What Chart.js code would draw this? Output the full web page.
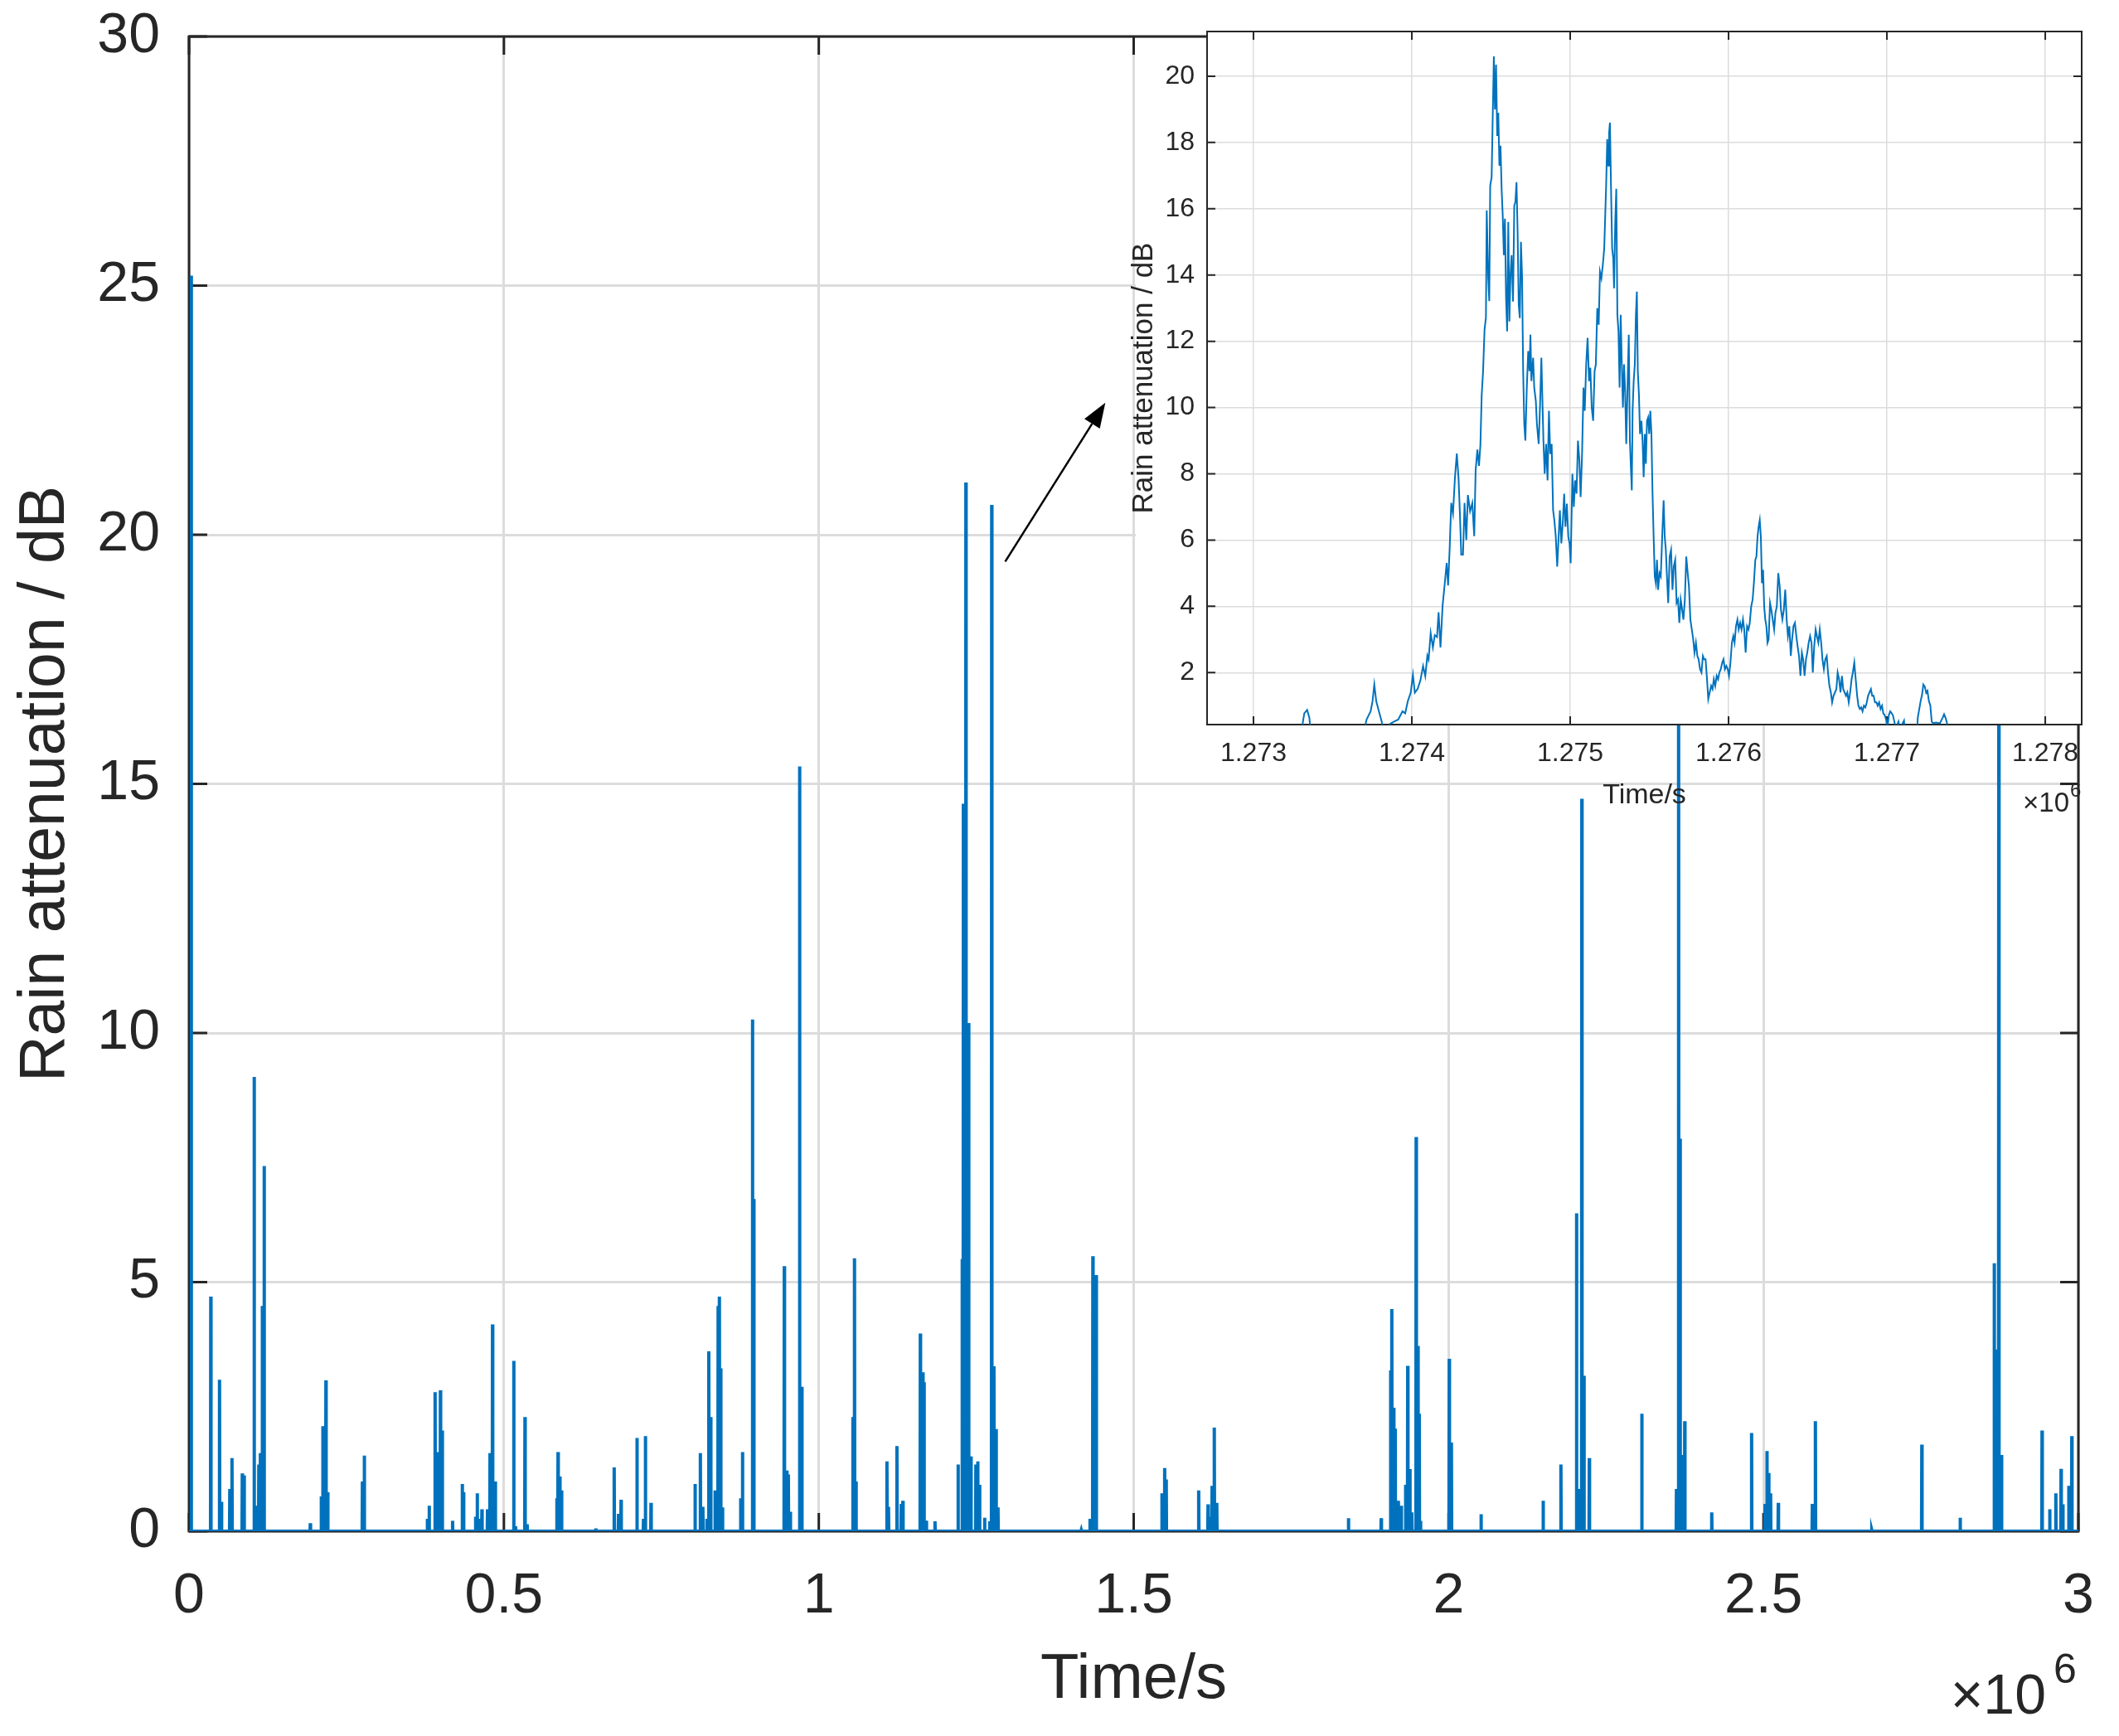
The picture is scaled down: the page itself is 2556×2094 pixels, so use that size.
<!DOCTYPE html>
<html>
<head>
<meta charset="utf-8">
<script src="https://cdn.jsdelivr.net/npm/chart.js@4.4.1/dist/chart.umd.min.js"></script>
<style>
  html, body { margin: 0; padding: 0; background: #ffffff; }
  #wrap { position: relative; width: 2556px; height: 2094px; }
  #mainCanvas { position: absolute; left: 0; top: 0; }
  #insetCanvas { position: absolute; left: 1340px; top: 0; }
</style>
</head>
<body>
<div id="wrap">
  <canvas id="mainCanvas" width="2556" height="2094"></canvas>
  <canvas id="insetCanvas" width="1216" height="1000"></canvas>
</div>
<script>
// --- Data ---

// Main plot: rain events (time in s, peak attenuation in dB); baseline is 0 dB between them
const spikeTimes = [
  3500, 34550, 48420, 51400, 64770, 68240, 84580, 87560, 103410, 108370,
  110840, 113320, 116290, 119270, 192580, 209920, 212400, 217350, 220330, 275320,
  278300, 378360, 381330, 390740, 394710, 399170, 402140, 418490, 433840, 435820,
  455140, 457620, 460100, 465050, 473970, 477930, 481900, 486360, 515590, 518560,
  533420, 536890, 583950, 585930, 588900, 591380, 645870, 675100, 682030, 685990,
  711260, 721660, 724630, 733550, 803510, 811930, 815900, 822340, 825310, 828280,
  835220, 837200, 840170, 842150, 844130, 847110, 875840, 878810, 894660, 896650,
  945200, 949160, 951640, 954610, 969470, 972940, 1054180, 1056660, 1059130, 1079940,
  1108180, 1110660, 1124040, 1130970, 1133450, 1161190, 1165150, 1167130, 1170600, 1184470,
  1221130, 1227570, 1229550, 1231530, 1233520, 1235990, 1237980, 1241450, 1249380, 1252350,
  1255320, 1263250, 1271180, 1274520, 1278100, 1281570, 1284540, 1416810, 1430680, 1435140,
  1440590, 1544730, 1549190, 1551670, 1603190, 1618050, 1621520, 1624490, 1627960, 1631920,
  1840980, 1893000, 1907860, 1909840, 1912810, 1915290, 1920240, 1924700, 1931640, 1935100,
  1938570, 1941540, 1948480, 1951450, 1953430, 1955410, 2001000, 2004470, 2051530, 2150110,
  2178350, 2203120, 2207580, 2211540, 2215010, 2223430, 2306770, 2361810, 2365220, 2367650,
  2370570, 2374960, 2417810, 2481120, 2502550, 2505470, 2508390, 2511310, 2523490, 2577550,
  2582420, 2672020, 2751410, 2812280, 2866340, 2869260, 2873640, 2878030, 2942310, 2954480,
  2964220, 2972500, 2975420, 2984670, 2989540
];
const spikeValues = [
  25.2, 4.71, 3.04, 0.59, 0.85, 1.47, 1.16, 1.12, 9.12, 0.51,
  1.34, 1.57, 4.52, 7.33, 0.16, 0.70, 2.11, 3.03, 0.78, 1.00,
  1.52, 0.25, 0.51, 2.79, 1.59, 2.83, 2.02, 0.21, 0.95, 0.78,
  0.29, 0.76, 0.25, 0.44, 0.44, 1.57, 4.15, 1.00, 3.42, 0.10,
  2.29, 0.14, 0.66, 1.59, 1.10, 0.82, 0.06, 1.28, 0.35, 0.63,
  1.87, 0.25, 1.91, 0.57, 0.95, 1.57, 0.49, 0.25, 3.61, 2.29,
  0.82, 0.82, 4.52, 4.71, 3.27, 0.48, 0.66, 1.59, 10.27, 6.67,
  5.32, 1.22, 1.14, 0.39, 15.35, 2.90, 2.29, 5.48, 1.00, 0.02,
  1.40, 0.49, 1.71, 0.55, 0.61, 3.97, 3.19, 2.99, 0.21, 0.20,
  1.34, 5.46, 14.6, 1.2, 21.05, 6.0, 10.2, 1.5, 1.34, 1.40,
  0.93, 0.27, 0.20, 20.6, 3.31, 2.05, 0.48, 0.02, 0.25, 5.52,
  5.14, 0.76, 1.27, 1.04, 0.82, 0.54, 0.29, 0.91, 2.08, 0.57,
  0.26, 0.26, 3.23, 4.46, 2.48, 2.06, 0.61, 0.51, 0.93, 3.32,
  1.25, 0.38, 7.91, 3.72, 2.36, 0.21, 3.46, 1.78, 0.34, 0.61,
  1.34, 6.38, 0.85, 14.7, 3.12, 1.47, 2.36, 0.85, 17.0, 7.88,
  1.53, 2.21, 0.38, 1.97, 0.55, 1.61, 1.17, 0.76, 0.57, 0.55,
  2.21, 0.02, 1.74, 0.27, 5.38, 3.65, 19.0, 1.53, 2.02, 0.44,
  0.76, 1.25, 0.54, 0.91, 1.91
];

// Inset: zoom on the event around 1.2745e6 s
const insetTimes = [
  1272707, 1273295, 1273321, 1273339, 1273353, 1273365, 1273688, 1273714, 1273740, 1273752,
  1273763, 1273775, 1273792, 1273810, 1273827, 1273862, 1273888, 1273914, 1273941, 1273958,
  1273975, 1273993, 1274007, 1274019, 1274037, 1274054, 1274071, 1274085, 1274098, 1274106,
  1274119, 1274133, 1274145, 1274159, 1274169, 1274181, 1274194, 1274208, 1274220, 1274229,
  1274239, 1274249, 1274260, 1274272, 1274284, 1274295, 1274304, 1274312, 1274323, 1274333,
  1274344, 1274354, 1274368, 1274382, 1274394, 1274403, 1274414, 1274424, 1274433, 1274441,
  1274450, 1274459, 1274468, 1274473, 1274482, 1274489, 1274495, 1274504, 1274511, 1274518,
  1274525, 1274532, 1274539, 1274546, 1274553, 1274560, 1274567, 1274574, 1274581, 1274588,
  1274595, 1274602, 1274609, 1274616, 1274623, 1274630, 1274639, 1274647, 1274654, 1274661,
  1274668, 1274675, 1274682, 1274689, 1274696, 1274703, 1274710, 1274717, 1274726, 1274735,
  1274743, 1274749, 1274755, 1274766, 1274773, 1274783, 1274790, 1274801, 1274810, 1274818,
  1274831, 1274839, 1274848, 1274857, 1274866, 1274874, 1274883, 1274892, 1274900, 1274909,
  1274918, 1274927, 1274935, 1274944, 1274953, 1274962, 1274970, 1274979, 1274988, 1274996,
  1275003, 1275014, 1275023, 1275031, 1275040, 1275049, 1275058, 1275066, 1275075, 1275084,
  1275092, 1275101, 1275110, 1275119, 1275127, 1275136, 1275145, 1275154, 1275162, 1275171,
  1275180, 1275188, 1275197, 1275206, 1275215, 1275220, 1275227, 1275234, 1275241, 1275246,
  1275251, 1275258, 1275265, 1275272, 1275277, 1275284, 1275291, 1275298, 1275305, 1275312,
  1275319, 1275326, 1275333, 1275340, 1275347, 1275354, 1275363, 1275370, 1275377, 1275384,
  1275389, 1275394, 1275401, 1275408, 1275415, 1275421, 1275427, 1275434, 1275441, 1275450,
  1275457, 1275464, 1275471, 1275478, 1275485, 1275492, 1275499, 1275506, 1275513, 1275520,
  1275527, 1275534, 1275541, 1275548, 1275555, 1275564, 1275572, 1275581, 1275590, 1275597,
  1275604, 1275611, 1275619, 1275628, 1275637, 1275646, 1275654, 1275663, 1275672, 1275681,
  1275689, 1275698, 1275707, 1275715, 1275724, 1275733, 1275742, 1275750, 1275759, 1275768,
  1275777, 1275785, 1275794, 1275803, 1275811, 1275820, 1275829, 1275838, 1275846, 1275855,
  1275864, 1275872, 1275881, 1275890, 1275899, 1275907, 1275916, 1275925, 1275934, 1275942,
  1275951, 1275960, 1275968, 1275977, 1275986, 1275995, 1276003, 1276012, 1276021, 1276030,
  1276038, 1276047, 1276056, 1276064, 1276073, 1276082, 1276091, 1276099, 1276108, 1276117,
  1276126, 1276134, 1276143, 1276152, 1276160, 1276169, 1276176, 1276183, 1276190, 1276197,
  1276204, 1276211, 1276218, 1276225, 1276232, 1276239, 1276246, 1276253, 1276262, 1276270,
  1276279, 1276288, 1276296, 1276305, 1276314, 1276323, 1276331, 1276340, 1276349, 1276358,
  1276367, 1276375, 1276384, 1276393, 1276401, 1276410, 1276419, 1276428, 1276436, 1276445,
  1276454, 1276463, 1276471, 1276480, 1276489, 1276497, 1276506, 1276515, 1276524, 1276532,
  1276541, 1276550, 1276558, 1276567, 1276576, 1276585, 1276593, 1276602, 1276611, 1276620,
  1276628, 1276637, 1276646, 1276654, 1276663, 1276672, 1276681, 1276689, 1276698, 1276707,
  1276716, 1276724, 1276733, 1276742, 1276750, 1276759, 1276768, 1276777, 1276785, 1276794,
  1276803, 1276812, 1276820, 1276829, 1276838, 1276846, 1276855, 1276864, 1276873, 1276881,
  1276890, 1276899, 1276907, 1276916, 1276925, 1276934, 1276942, 1276951, 1276960, 1276969,
  1276977, 1276986, 1276995, 1277003, 1277012, 1277021, 1277030, 1277038, 1277047, 1277056,
  1277073, 1277082, 1277108, 1277117, 1277187, 1277195, 1277204, 1277213, 1277222, 1277230,
  1277239, 1277248, 1277256, 1277265, 1277274, 1277283, 1277291, 1277309, 1277335, 1277352,
  1277361, 1277370, 1277379, 1277387, 1278230
];
const insetValues = [
  0, 0, 0.77, 0.87, 0.64, 0, 0, 0.58, 0.83, 1.14,
  1.64, 1.14, 0.83, 0.52, 0, 0.45, 0.52, 0.58, 0.83, 0.77,
  1.14, 1.39, 1.93, 1.39, 1.51, 1.76, 2.20, 1.89, 2.51, 2.39,
  3.19, 2.76, 3.13, 3.07, 3.82, 2.76, 4.00, 4.69, 5.31, 4.63,
  5.75, 7.12, 6.80, 7.86, 8.61, 7.86, 6.74, 5.56, 5.56, 7.12,
  6.00, 7.36, 6.87, 7.12, 6.12, 8.11, 8.73, 8.24, 8.86, 10.35,
  11.10, 12.34, 12.72, 15.95, 13.96, 13.21, 16.70, 16.95, 18.81, 20.6,
  19.0, 20.35, 18.2, 18.9, 17.3, 17.9, 16.6, 15.8, 14.6, 15.7,
  13.3, 12.3, 15.6, 12.6, 14.0, 14.6, 13.2, 16.1, 16.2, 16.8,
  15.3, 13.1, 12.7, 15.0, 14.0, 11.1, 9.5, 9.0, 10.6, 11.7,
  11.1, 12.2, 10.8, 11.5, 10.6, 10.2, 9.5, 8.9, 10.1, 11.5,
  9.0, 8.0, 8.9, 7.8, 9.9, 8.6, 8.9, 6.9, 6.6, 6.1,
  5.2, 6.1, 6.9, 5.9, 6.5, 7.4, 6.4, 7.1, 6.1, 5.9,
  5.3, 8.0, 7.0, 7.8, 7.4, 9.0, 8.4, 7.3, 8.6, 10.6,
  9.9, 11.3, 12.1, 10.8, 11.2, 10.0, 9.6, 11.1, 11.3, 13.0,
  12.5, 14.1, 13.9, 14.3, 14.8, 15.6, 16.7, 18.1, 17.3, 18.3,
  18.6, 16.6, 14.8, 14.5, 13.6, 15.5, 16.6, 12.8, 12.3, 10.6,
  12.8, 11.3, 10.0, 11.3, 10.5, 8.9, 10.8, 12.2, 9.0, 8.1,
  7.5, 9.9, 10.8, 11.3, 12.8, 13.5, 11.1, 10.4, 9.2, 9.6,
  9.0, 7.9, 9.2, 8.3, 9.6, 9.7, 9.2, 9.9, 9.2, 7.4,
  6.1, 4.9, 4.7, 5.4, 4.5, 5.0, 4.9, 6.1, 7.2, 6.1,
  5.7, 4.9, 4.1, 5.5, 5.7, 4.5, 5.2, 5.4, 4.1, 4.2,
  3.5, 4.2, 3.9, 3.6, 4.2, 5.5, 5.0, 4.6, 3.6, 3.3,
  3.0, 2.6, 2.9, 2.5, 2.4, 2.1, 2.0, 2.5, 2.4, 2.4,
  1.8, 1.2, 1.4, 1.6, 1.5, 1.8, 1.6, 1.9, 1.8, 2.0,
  2.1, 2.3, 2.4, 2.1, 2.2, 2.1, 1.9, 2.3, 2.9, 3.1,
  2.9, 3.4, 3.6, 3.3, 3.5, 3.3, 3.6, 3.3, 2.6, 3.4,
  3.3, 3.5, 4.0, 4.2, 4.7, 5.4, 5.5, 6.1, 6.4, 6.6,
  6.1, 4.7, 5.1, 4.0, 3.6, 3.4, 2.9, 3.0, 4.1, 3.9,
  3.6, 3.3, 3.8, 4.0, 5.0, 4.6, 3.9, 3.6, 3.9, 4.5,
  3.6, 3.1, 3.4, 2.5, 3.0, 3.4, 3.5, 3.1, 2.8, 2.5,
  1.9, 2.6, 2.4, 1.9, 2.4, 2.6, 2.9, 3.1, 2.9, 2.0,
  2.8, 3.3, 3.1, 2.9, 3.3, 2.9, 2.4, 2.1, 2.4, 2.5,
  2.0, 1.6, 1.4, 1.1, 1.3, 1.4, 1.5, 2.0, 1.8, 1.4,
  1.9, 1.5, 1.4, 1.3, 1.4, 1.1, 1.4, 1.8, 2.0, 2.3,
  1.8, 1.3, 1.0, 0.9, 0.95, 0.83, 1.0, 0.95, 1.1, 1.3,
  1.4, 1.5, 1.3, 1.3, 1.1, 1.1, 1.0, 1.1, 0.9, 1.0,
  0.77, 0.71, 0.58, 0.3, 0.71, 0.83, 0.77, 0.71, 0.52, 0.3,
  0.52, 0.3, 0.55, 0, 0, 0.64, 0.89, 1.14, 1.33, 1.64,
  1.58, 1.39, 1.45, 1.14, 1.01, 0.52, 0.47, 0.49, 0.47, 0.64,
  0.74, 0.64, 0.49, 0, 0
];

// Axis ranges and tick positions
const mainXRange = [0, 3e6];
const mainYRange = [0, 30];
const mainXTicks = [0, 5e5, 1e6, 1.5e6, 2e6, 2.5e6, 3e6];
const mainYTicks = [0, 5, 10, 15, 20, 25, 30];
const insetXRange = [1272707, 1278230];
const insetYRange = [0.43, 21.35];
const insetXTicks = [1273000, 1274000, 1275000, 1276000, 1277000, 1278000];
const insetYTicks = [2, 4, 6, 8, 10, 12, 14, 16, 18, 20];

// Arrow pointing from the main-plot event to the inset (data coordinates of main plot)
const arrowFrom = [1.296e6, 19.46];
const arrowTo = [1.455e6, 22.65];

// --- Styling ---
const AXIS_COLOR = '#262626';
const GRID_COLOR = '#dcdcdc';
const LINE_COLOR = '#0072bd';
const FONT = "'Liberation Sans', Arial, Helvetica, sans-serif";
const SPIKE_HALF_WIDTH = 400; // seconds, just to give each event a rise and fall

Chart.defaults.font.family = FONT;
Chart.defaults.color = AXIS_COLOR;

function buildSpikeSeries(times, values) {
  const pts = [{ x: mainXRange[0], y: 0 }];
  for (let i = 0; i < times.length; i++) {
    pts.push({ x: times[i] - SPIKE_HALF_WIDTH, y: 0 });
    pts.push({ x: times[i], y: values[i] });
    pts.push({ x: times[i] + SPIKE_HALF_WIDTH, y: 0 });
  }
  pts.push({ x: mainXRange[1], y: 0 });
  return pts;
}

function zipSeries(xs, ys) {
  return xs.map((x, i) => ({ x: x, y: ys[i] }));
}

// fixed tick positions, and no extra label overflow padding around the plot area
function fixedTicks(values) {
  return s => { s.ticks = values.map(v => ({ value: v })); };
}
function fitBox(size, horizontal) {
  return s => {
    if (horizontal) s.height = size; else s.width = size;
    s.paddingLeft = 0; s.paddingRight = 0; s.paddingTop = 0; s.paddingBottom = 0;
  };
}

// Box around the axes with MATLAB-like inward ticks on all four sides
const boxTicks = {
  id: 'boxTicks',
  beforeDatasetsDraw(chart, args, opts) {
    const { ctx, chartArea: a, scales: { x, y } } = chart;
    ctx.save();
    ctx.strokeStyle = AXIS_COLOR;
    ctx.lineWidth = opts.width;
    ctx.beginPath();
    x.ticks.forEach(t => {
      const px = x.getPixelForValue(t.value);
      ctx.moveTo(px, a.bottom); ctx.lineTo(px, a.bottom - opts.len);
      ctx.moveTo(px, a.top); ctx.lineTo(px, a.top + opts.len);
    });
    y.ticks.forEach(t => {
      const py = y.getPixelForValue(t.value);
      ctx.moveTo(a.left, py); ctx.lineTo(a.left + opts.len, py);
      ctx.moveTo(a.right, py); ctx.lineTo(a.right - opts.len, py);
    });
    ctx.stroke();
    ctx.strokeRect(a.left, a.top, a.right - a.left, a.bottom - a.top);
    ctx.restore();
  }
};

// "x10^6" exponent label under the right end of the x axis
const exponentLabel = {
  id: 'exponentLabel',
  afterDraw(chart, args, opts) {
    const { ctx, chartArea: a } = chart;
    ctx.save();
    ctx.fillStyle = AXIS_COLOR;
    ctx.textBaseline = 'alphabetic';
    ctx.textAlign = 'right';
    ctx.font = opts.baseSize + 'px ' + FONT;
    ctx.fillText('\u00d710', a.right + opts.baseDx, a.bottom + opts.baseDy);
    ctx.textAlign = 'left';
    ctx.font = opts.expSize + 'px ' + FONT;
    ctx.fillText('6', a.right + opts.expDx, a.bottom + opts.expDy);
    ctx.restore();
  }
};

const arrowPlugin = {
  id: 'arrowPlugin',
  afterDraw(chart) {
    const { ctx, scales: { x, y } } = chart;
    const x0 = x.getPixelForValue(arrowFrom[0]), y0 = y.getPixelForValue(arrowFrom[1]);
    const x1 = x.getPixelForValue(arrowTo[0]), y1 = y.getPixelForValue(arrowTo[1]);
    const ang = Math.atan2(y1 - y0, x1 - x0);
    const headLen = 30, headHalf = 11;
    const bx = x1 - headLen * Math.cos(ang), by = y1 - headLen * Math.sin(ang);
    ctx.save();
    ctx.strokeStyle = '#000000';
    ctx.fillStyle = '#000000';
    ctx.lineWidth = 2.5;
    ctx.beginPath();
    ctx.moveTo(x0, y0);
    ctx.lineTo(bx, by);
    ctx.stroke();
    ctx.beginPath();
    ctx.moveTo(x1, y1);
    ctx.lineTo(bx + headHalf * Math.sin(ang), by - headHalf * Math.cos(ang));
    ctx.lineTo(bx - headHalf * Math.sin(ang), by + headHalf * Math.cos(ang));
    ctx.closePath();
    ctx.fill();
    ctx.restore();
  }
};

// White backing of the inset (plot area plus the strip holding its y labels)
const insetBackground = {
  id: 'insetBackground',
  beforeDraw(chart, args, opts) {
    const { ctx, chartArea: a } = chart;
    ctx.save();
    ctx.fillStyle = '#ffffff';
    ctx.fillRect(a.left, a.top, a.right - a.left, a.bottom - a.top);
    ctx.fillRect(opts.stripLeft, a.top + 10, a.left - opts.stripLeft, a.bottom - a.top - 10);
    ctx.restore();
  }
};

// --- Main chart ---
new Chart(document.getElementById('mainCanvas'), {
  type: 'line',
  data: {
    datasets: [{
      data: buildSpikeSeries(spikeTimes, spikeValues),
      borderColor: LINE_COLOR,
      borderWidth: 4,
      pointRadius: 0,
      tension: 0,
      fill: false
    }]
  },
  options: {
    responsive: false,
    devicePixelRatio: 1,
    animation: false,
    parsing: false,
    normalized: true,
    layout: { padding: { left: 0, top: 44, right: 49, bottom: 0 } },
    plugins: {
      legend: { display: false },
      tooltip: { enabled: false },
      boxTicks: { len: 22, width: 3 },
      exponentLabel: { baseSize: 68, expSize: 50, baseDx: -39, baseDy: 220, expDx: -30, expDy: 183 }
    },
    scales: {
      x: {
        type: 'linear',
        min: mainXRange[0],
        max: mainXRange[1],
        grid: { color: GRID_COLOR, lineWidth: 3, drawTicks: false },
        border: { display: false },
        ticks: {
          padding: 38,
          maxRotation: 0,
          autoSkip: false,
          font: { size: 68 },
          color: AXIS_COLOR,
          callback: v => String(v / 1e6)
        },
        title: { display: true, text: 'Time/s', font: { size: 76 }, color: AXIS_COLOR, padding: { top: 0, bottom: 21 } },
        afterBuildTicks: fixedTicks(mainXTicks),
        afterFit: fitBox(247, true)
      },
      y: {
        type: 'linear',
        min: mainYRange[0],
        max: mainYRange[1],
        grid: { color: GRID_COLOR, lineWidth: 3, drawTicks: false },
        border: { display: false },
        ticks: { padding: 35, autoSkip: false, font: { size: 68 }, color: AXIS_COLOR },
        title: { display: true, text: 'Rain attenuation / dB', font: { size: 77 }, color: AXIS_COLOR, padding: { top: 10, bottom: 0 } },
        afterBuildTicks: fixedTicks(mainYTicks),
        afterFit: fitBox(228, false)
      }
    }
  },
  plugins: [boxTicks, exponentLabel, arrowPlugin]
});

// --- Inset chart ---
new Chart(document.getElementById('insetCanvas'), {
  type: 'line',
  data: {
    datasets: [{
      data: zipSeries(insetTimes, insetValues),
      borderColor: LINE_COLOR,
      borderWidth: 2,
      pointRadius: 0,
      tension: 0,
      fill: false
    }]
  },
  options: {
    responsive: false,
    devicePixelRatio: 1,
    animation: false,
    parsing: false,
    layout: { padding: { left: 0, top: 38, right: 45, bottom: 0 } },
    plugins: {
      legend: { display: false },
      tooltip: { enabled: false },
      insetBackground: { stripLeft: 30 },
      boxTicks: { len: 10, width: 2 },
      exponentLabel: { baseSize: 33, expSize: 24, baseDx: -15, baseDy: 105, expDx: -14, expDy: 87 }
    },
    scales: {
      x: {
        type: 'linear',
        min: insetXRange[0],
        max: insetXRange[1],
        grid: { color: GRID_COLOR, lineWidth: 1.5, drawTicks: false },
        border: { display: false },
        ticks: {
          padding: 16,
          maxRotation: 0,
          autoSkip: false,
          font: { size: 32 },
          color: AXIS_COLOR,
          callback: v => (v / 1e6).toFixed(3)
        },
        title: { display: true, text: 'Time/s', font: { size: 34 }, color: AXIS_COLOR, padding: { top: 0, bottom: 20 } },
        afterBuildTicks: fixedTicks(insetXTicks),
        afterFit: fitBox(126, true)
      },
      y: {
        type: 'linear',
        min: insetYRange[0],
        max: insetYRange[1],
        grid: { color: GRID_COLOR, lineWidth: 1.5, drawTicks: false },
        border: { display: false },
        ticks: { padding: 15, autoSkip: false, font: { size: 32 }, color: AXIS_COLOR },
        title: { display: true, text: 'Rain attenuation / dB', font: { size: 35 }, color: AXIS_COLOR, padding: { top: 19, bottom: 0 } },
        afterBuildTicks: fixedTicks(insetYTicks),
        afterFit: fitBox(116, false)
      }
    }
  },
  plugins: [insetBackground, boxTicks, exponentLabel]
});
</script>
</body>
</html>
